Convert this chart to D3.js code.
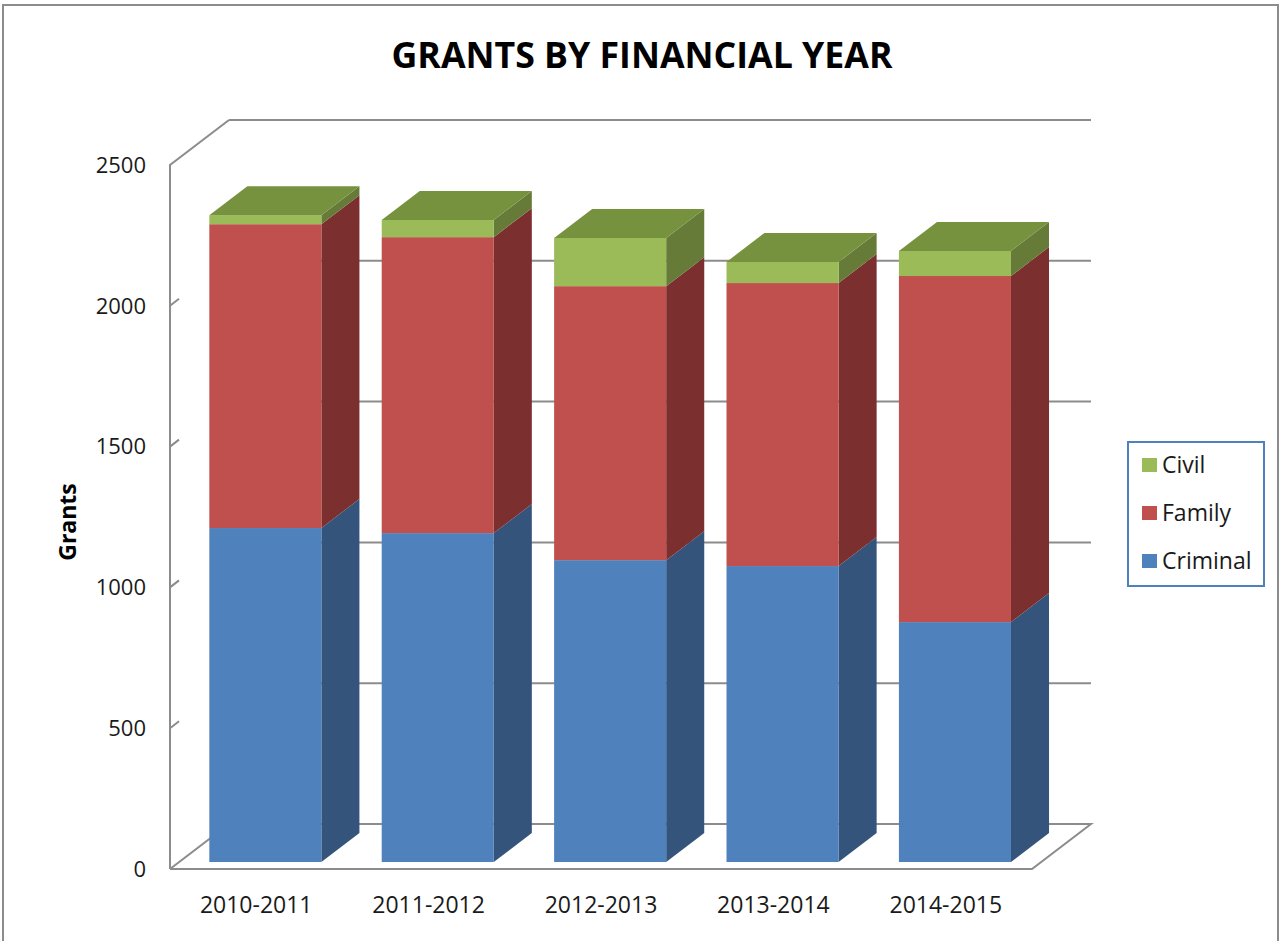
<!DOCTYPE html>
<html lang="en">
<head>
<meta charset="UTF-8">
<script src="https://cdn.jsdelivr.net/npm/d3@7"></script>
<title>Grants by Financial Year</title>
<style>
	body {
		margin: 0;
		background: #fff;
		font-family: "Open Sans", Arial, sans-serif;
	}
</style>
</head>
<body>
<script>
	// data
	const years = ['2010-2011', '2011-2012', '2012-2013', '2013-2014', '2014-2015'];
	const criminal = [1186, 1168, 1072, 1051, 852];
	const family = [1079, 1051, 973, 1005, 1229];
	const civil = [32, 61, 171, 75, 89];
	const seriesNames = ['Criminal', 'Family', 'Civil'];
	const yTicks = [0, 500, 1000, 1500, 2000, 2500];

	const width = 1283, height = 941;
	const svg = d3.select('body').append('svg')
		.attr('width', width)
		.attr('height', height);

	// outer frame
	svg.append('rect')
		.attr('x', 3).attr('y', 5)
		.attr('width', 1275).attr('height', 960)
		.attr('fill', '#fff')
		.attr('stroke', '#8c8c8c')
		.attr('stroke-width', 2);

	// title
	svg.append('text')
		.attr('x', 642).attr('y', 68)
		.attr('text-anchor', 'middle')
		.attr('font-size', 36)
		.attr('font-weight', 'bold')
		.attr('textLength', 501)
		.attr('lengthAdjust', 'spacingAndGlyphs')
		.attr('fill', '#000')
		.text('GRANTS BY FINANCIAL YEAR');

	// 3d box: front plane + depth vector
	const left = 170, right = 1032, floorY = 869, topY = 165;
	const DX = 59, DY = 45;
	const fd1 = 0.155, fd2 = 0.8;  // bar front / back depth fractions

	const x = d3.scaleBand().domain(years).range([left, right])
		.paddingInner(0.35).paddingOuter(0.175);
	const y = d3.scaleLinear().domain([0, 2500]).range([floorY, topY]);

	const gridColor = '#8c8c8c';
	const walls = svg.append('g')
		.attr('fill', 'none')
		.attr('stroke', gridColor)
		.attr('stroke-width', 2);

	// back wall gridlines
	walls.selectAll('.grid')
		.data(yTicks.filter(d => d > 0))
		.enter().append('line')
		.attr('x1', left + DX).attr('x2', right + DX)
		.attr('y1', d => y(d) - DY).attr('y2', d => y(d) - DY);

	// floor
	walls.append('path')
		.attr('d', d3.line()([
			[left, y(0)], [right, y(0)], [right + DX, y(0) - DY], [left + DX, y(0) - DY], [left, y(0)]
		]));

	// left wall edge
	walls.append('path')
		.attr('d', d3.line()([[left, y(0)], [left, y(2500)], [left + DX, y(2500) - DY]]));

	// tick marks on the axis
	walls.selectAll('.tick')
		.data(yTicks.filter(d => d > 0 && d < 2500))
		.enter().append('line')
		.attr('x1', left).attr('y1', d => y(d))
		.attr('x2', left + 9).attr('y2', d => y(d) - 7);

	// y labels
	svg.append('g').selectAll('text')
		.data(yTicks)
		.enter().append('text')
		.attr('x', 146)
		.attr('y', d => y(d))
		.attr('dy', '0.35em')
		.attr('text-anchor', 'end')
		.attr('font-size', 22)
		.attr('fill', '#1a1a1a')
		.text(d => d);

	svg.append('text')
		.attr('transform', 'translate(68,522) rotate(-90)')
		.attr('text-anchor', 'middle')
		.attr('dy', '0.35em')
		.attr('font-size', 23)
		.attr('font-weight', 'bold')
		.attr('fill', '#000')
		.text('Grants');

	// x labels
	svg.append('g').selectAll('text')
		.data(years)
		.enter().append('text')
		.attr('x', d => x(d) + x.bandwidth() / 2)
		.attr('y', 913)
		.attr('text-anchor', 'middle')
		.attr('font-size', 23)
		.attr('fill', '#1a1a1a')
		.text(d => d);

	// stacked bars
	const rows = years.map((yr, i) => ({ year: yr, Criminal: criminal[i], Family: family[i], Civil: civil[i] }));
	const stack = d3.stack().keys(seriesNames)(rows);

	const colors = {
		Criminal: { front: '#4f81bd', side: '#34547c', top: '#3f6a9c' },
		Family: { front: '#c0504d', side: '#7b302f', top: '#9a3d3a' },
		Civil: { front: '#9bbb59', side: '#677b39', top: '#77923f' }
	};

	const ddx = (fd2 - fd1) * DX, ddy = (fd2 - fd1) * DY;
	const bars = svg.append('g');

	years.forEach((yr, i) => {
		const g = bars.append('g');
		const x0 = x(yr) + fd1 * DX;
		const x1 = x0 + x.bandwidth();
		stack.forEach((layer, li) => {
			const d = layer[i];
			const c = colors[layer.key];
			const yt = y(d[1]) - fd1 * DY;
			const yb = y(d[0]) - fd1 * DY;
			g.append('path')
				.attr('fill', c.side)
				.attr('d', d3.line()([[x1, yt], [x1 + ddx, yt - ddy], [x1 + ddx, yb - ddy], [x1, yb]]) + 'Z');
			g.append('rect')
				.attr('x', x0).attr('y', yt)
				.attr('width', x1 - x0).attr('height', yb - yt)
				.attr('fill', c.front);
			if (li === stack.length - 1) {
				g.append('path')
					.attr('fill', c.top)
					.attr('d', d3.line()([[x0, yt], [x0 + ddx, yt - ddy], [x1 + ddx, yt - ddy], [x1, yt]]) + 'Z');
			}
		});
	});

	// legend
	const legend = svg.append('g');
	legend.append('rect')
		.attr('x', 1128).attr('y', 442)
		.attr('width', 136).attr('height', 144)
		.attr('fill', '#fff')
		.attr('stroke', '#4f81bd')
		.attr('stroke-width', 2);

	const legendItems = seriesNames.slice().reverse();
	const ly = d3.scalePoint().domain(legendItems).range([465, 561]);
	legend.selectAll('.sw')
		.data(legendItems)
		.enter().append('rect')
		.attr('x', 1142).attr('y', d => ly(d) - 7)
		.attr('width', 15).attr('height', 14)
		.attr('fill', d => colors[d].front);
	legend.selectAll('.lt')
		.data(legendItems)
		.enter().append('text')
		.attr('x', 1162).attr('y', d => ly(d))
		.attr('dy', '0.35em')
		.attr('font-size', 23)
		.attr('fill', '#1a1a1a')
		.text(d => d);
</script>
</body>
</html>
